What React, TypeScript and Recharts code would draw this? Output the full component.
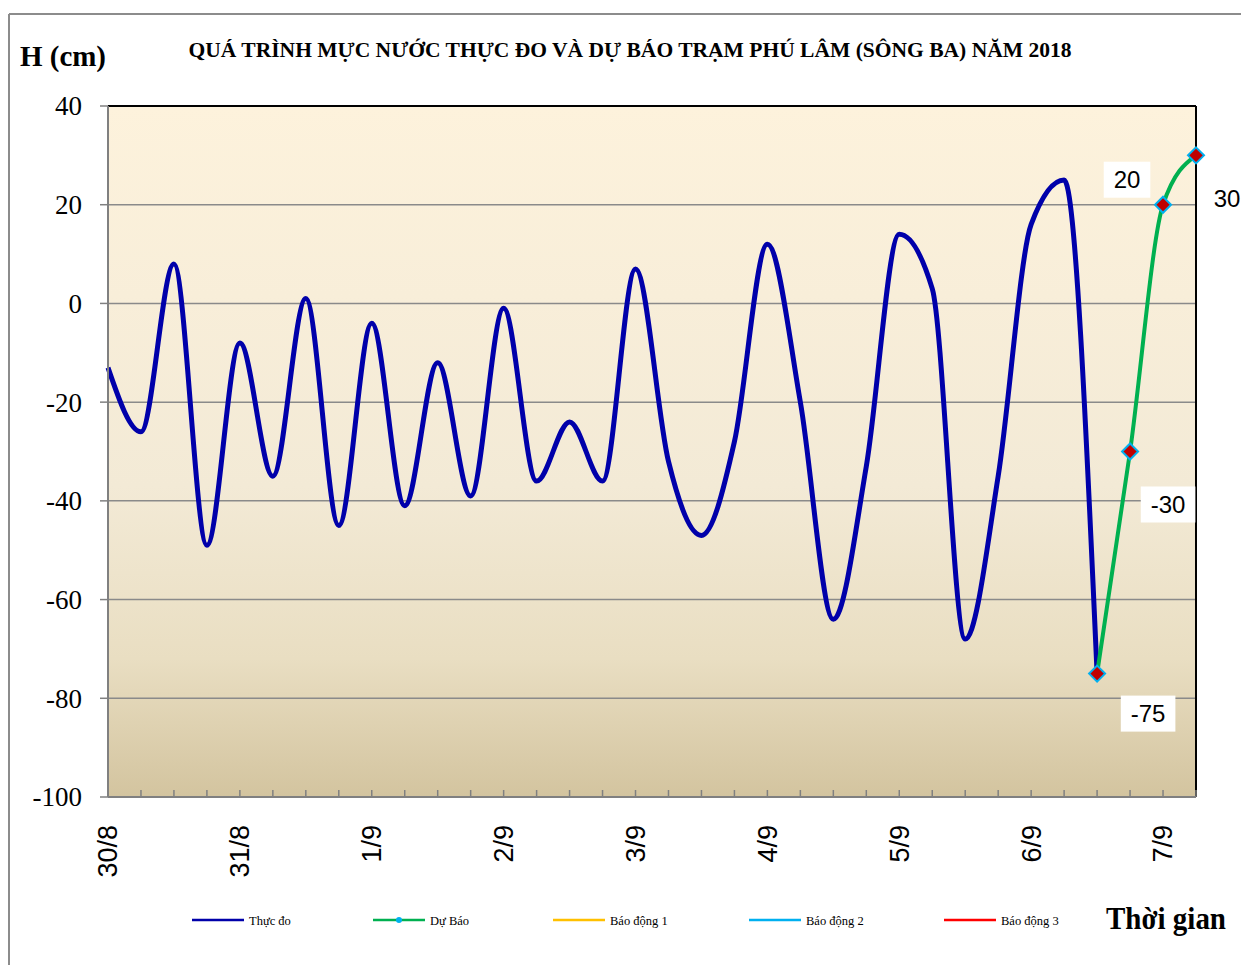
import React from "react";
import {
  LineChart, Line, XAxis, YAxis, CartesianGrid, ReferenceLine, LabelList,
} from "recharts";

// 6-hourly steps, 4 per day starting 30/8 00h
const dayLabels = ["30/8", "31/8", "1/9", "2/9", "3/9", "4/9", "5/9", "6/9", "7/9"];
const observed = [
  -13, -26, 8, -49, -8, -35, 1, -45, -4, -41, -12, -39, -1, -36, -24, -36,
  7, -32, -47, -28, 12, -20, -64, -33, 14, 3, -68, -35, 16, 25, -75,
];
const forecast = [-75, -30, 20, 30];
const yTicks = [40, 20, 0, -20, -40, -60, -80, -100];

const STEPS_PER_DAY = 4;
const FORECAST_START = observed.length - 1;
const LAST = FORECAST_START + forecast.length - 1;

const legendItems = [
  { label: "Thực đo", color: "#0000aa", x: 192, marker: false },
  { label: "Dự Báo", color: "#00b050", x: 373, marker: true },
  { label: "Báo động 1", color: "#ffc000", x: 553, marker: false },
  { label: "Báo động 2", color: "#00b0f0", x: 749, marker: false },
  { label: "Báo động 3", color: "#ff0000", x: 944, marker: false },
];

const data = Array.from({ length: LAST + 1 }, (_, i) => ({
  t: i,
  observed: i < observed.length ? observed[i] : null,
  forecast: i >= FORECAST_START ? forecast[i - FORECAST_START] : null,
}));

// label box offsets from the point, in forecast order
const LABEL_OFFSETS = [
  { dx: 51, dy: 40, box: true },
  { dx: 38, dy: 53, box: true },
  { dx: -36, dy: -25, box: true },
  { dx: 31, dy: 43, box: false },
];

const SERIF = "'Liberation Serif', 'Times New Roman', serif";
const SANS = "'Liberation Sans', Arial, sans-serif";

function renderYTick(props: any) {
  const { x, y, payload } = props;
  return (
    <text key={`y-${payload.value}`} x={x} y={y} dy="0.35em" textAnchor="end"
      style={{ fontFamily: SERIF, fontSize: 27 }} fill="#000">
      {payload.value}
    </text>
  );
}

function renderTimeTick(props: any) {
  const { x, y, payload } = props;
  const i = payload.value as number;
  const label = i % STEPS_PER_DAY === 0 ? dayLabels[i / STEPS_PER_DAY] : null;
  return (
    <g key={`t-${i}`}>
      <line x1={x} x2={x} y1={y} y2={y - 7} stroke="#808080" strokeWidth={1.5} />
      {label && (
        <text x={x} y={y + 28} transform={`rotate(-90, ${x}, ${y + 28})`}
          textAnchor="end" dy="0.35em"
          style={{ fontFamily: SANS, fontSize: 27 }} fill="#000">
          {label}
        </text>
      )}
    </g>
  );
}

function Diamond({ cx, cy, value }: any) {
  if (cx == null || cy == null || value == null) return <g />;
  const r = 8;
  return (
    <polygon
      points={`${cx},${cy - r} ${cx + r},${cy} ${cx},${cy + r} ${cx - r},${cy}`}
      fill="#c00000" stroke="#00b0f0" strokeWidth={2}
    />
  );
}

function ValueLabel({ x, y, value, index }: any) {
  if (value == null || x == null || y == null) return null;
  const k = index - FORECAST_START;
  const off = LABEL_OFFSETS[k] ?? { dx: 30, dy: 30, box: false };
  const text = String(value);
  const w = text.replace("-", "").length * 13.3 + (text.startsWith("-") ? 8 : 0) + 20;
  const cx = x + off.dx;
  const cy = y + off.dy;
  return (
    <g>
      {off.box && <rect x={cx - w / 2} y={cy - 18} width={w} height={36} fill="#fff" />}
      <text x={cx} y={cy} dy="0.35em" textAnchor="middle"
        style={{ fontFamily: SANS, fontSize: 24 }} fill="#000">
        {text}
      </text>
    </g>
  );
}

export default function App() {
  return (
    <div style={{ position: "absolute", left: 0, top: 0, width: 1241, height: 965, background: "#fff" }}>
      <LineChart
        width={1241}
        height={965}
        data={data}
        margin={{ top: 106, right: 45, left: 0, bottom: 0 }}
      >
        <defs>
          <linearGradient id="plotBg" x1="0" y1="0" x2="0" y2="1">
            <stop offset="0%" stopColor="#fdf2dc" />
            <stop offset="55%" stopColor="#f3ead6" />
            <stop offset="80%" stopColor="#e9dec2" />
            <stop offset="100%" stopColor="#d3c49f" />
          </linearGradient>
        </defs>
        <CartesianGrid
          vertical={false}
          stroke="#8a8a8a"
          strokeWidth={1.5}
          fill="url(#plotBg)"
          fillOpacity={1}
        />
        <XAxis
          dataKey="t"
          type="number"
          domain={[0, LAST]}
          ticks={data.map((d) => d.t)}
          interval={0}
          height={168}
          tickSize={0}
          tickMargin={0}
          tickLine={false}
          axisLine={{ stroke: "#808080", strokeWidth: 2 }}
          tick={renderTimeTick}
        />
        <YAxis
          domain={[-100, 40]}
          ticks={yTicks}
          interval={0}
          width={108}
          tickSize={8}
          tickMargin={18}
          tickLine={{ stroke: "#808080", strokeWidth: 1.5 }}
          axisLine={{ stroke: "#808080", strokeWidth: 2 }}
          tick={renderYTick}
        />
        <ReferenceLine y={40} stroke="#000" strokeWidth={2} />
        <ReferenceLine x={LAST} stroke="#000" strokeWidth={2} />
        <Line
          dataKey="observed"
          type="monotone"
          stroke="#0000aa"
          strokeWidth={5}
          dot={false}
          isAnimationActive={false}
        />
        <Line
          dataKey="forecast"
          type="monotone"
          stroke="#00b050"
          strokeWidth={4}
          dot={<Diamond />}
          isAnimationActive={false}
        >
          <LabelList dataKey="forecast" content={<ValueLabel />} />
        </Line>
      </LineChart>

      <svg width={1241} height={965}
        style={{ position: "absolute", left: 0, top: 0, pointerEvents: "none" }}>
        <line x1={9} x2={1241} y1={14} y2={14} stroke="#8c8c8c" strokeWidth={2} />
        <line x1={9} x2={9} y1={14} y2={965} stroke="#8c8c8c" strokeWidth={2} />
        <text x={630} y={57} textAnchor="middle" textLength={883} lengthAdjust="spacingAndGlyphs"
          style={{ fontFamily: SERIF, fontWeight: "bold", fontSize: 22 }}>
          QUÁ TRÌNH MỰC NƯỚC THỰC ĐO VÀ DỰ BÁO TRẠM PHÚ LÂM (SÔNG BA) NĂM 2018
        </text>
        <text x={20} y={66} textLength={86} lengthAdjust="spacingAndGlyphs"
          style={{ fontFamily: SERIF, fontWeight: "bold", fontSize: 29 }}>
          H (cm)
        </text>
        <text x={1106} y={929} textLength={120} lengthAdjust="spacingAndGlyphs"
          style={{ fontFamily: SERIF, fontWeight: "bold", fontSize: 32 }}>
          Thời gian
        </text>
        {legendItems.map((it) => (
          <g key={it.label}>
            <line x1={it.x} x2={it.x + 52} y1={920} y2={920} stroke={it.color} strokeWidth={2.5} />
            {it.marker && <circle cx={it.x + 26} cy={920} r={3} fill="#00b0f0" />}
            <text x={it.x + 57} y={924.5}
              style={{ fontFamily: SERIF, fontSize: 12.5 }} fill="#000">
              {it.label}
            </text>
          </g>
        ))}
      </svg>
    </div>
  );
}
